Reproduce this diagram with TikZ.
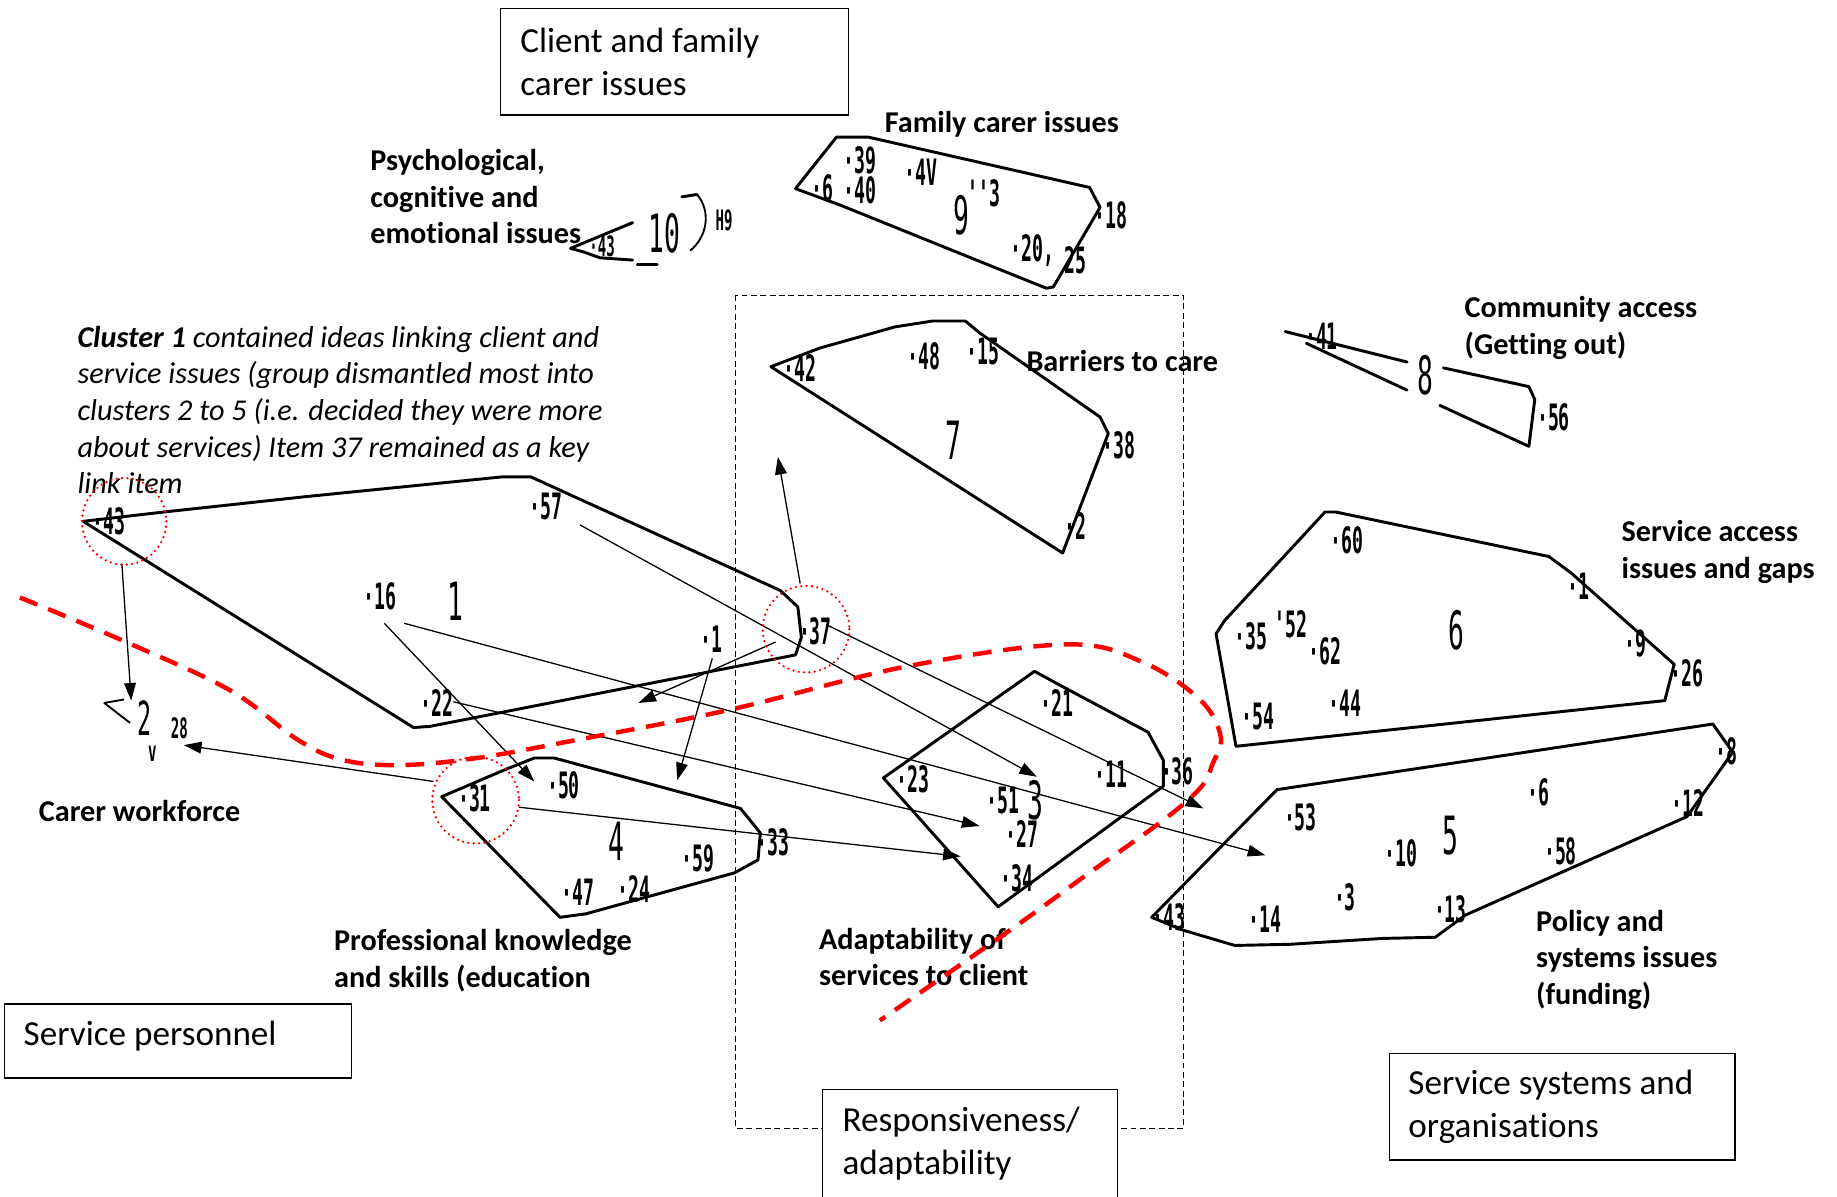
\documentclass[tikz,border=0pt]{standalone}
\usepackage{fontspec}
\usepackage{graphicx}
\setmainfont{Carlito}[Ligatures={NoCommon}]
\newfontfamily\numfont{DejaVu Sans Mono}
\usetikzlibrary{arrows.meta}
\definecolor{redline}{RGB}{255,0,0}
\newcommand{\sn}[1]{\scalebox{0.5}[1]{\numfont\bfseries\fontsize{31}{31}\selectfont #1}}
\newcommand{\bn}[1]{\scalebox{0.5}[1]{\numfont\fontsize{45}{45}\selectfont #1}}
\newcommand{\tn}[1]{\scalebox{0.5}[1]{\numfont\bfseries\fontsize{24}{24}\selectfont #1}}
\tikzset{
  clus/.style={line width=2.5pt, line join=round, line cap=round},
  thinclus/.style={line width=1.6pt, line join=round},
  framebox/.style={draw, line width=1.2pt, fill=white},
  boxtext/.style={font=\fontsize{30}{36.5}\selectfont, align=left, anchor=west, inner sep=0pt},
  lab/.style={font=\bfseries\fontsize{25.8}{31.2}\selectfont, align=left, anchor=west, inner sep=0pt},
  note/.style={font=\itshape\fontsize{25.8}{31.3}\selectfont, align=left, anchor=west, inner sep=0pt},
  num/.style={inner sep=0pt},
  arr/.style={line width=1.1pt, -{Triangle[length=15pt,width=10pt]}},
  redcirc/.style={draw=redline, line width=2.2pt, dash pattern=on 0pt off 4.6pt, line cap=round},
  reddash/.style={draw=redline, line width=3.8pt, dash pattern=on 16pt off 10pt},
  dbox/.style={draw, line width=1pt, dash pattern=on 5pt off 3pt},
}
\begin{document}
\begin{tikzpicture}[x=1pt,y=-1pt]
\fill[white] (0,0) rectangle (1568,1021);
\useasboundingbox (0,0) rectangle (1568,1021);

% dashed frame
\draw[dbox] (628,252) rectangle (1010,963);

% ---------- clusters ----------
% cluster 1
\draw[clus] (71,445) -- (140,437) -- (260,424) -- (429,407) -- (453,407) -- (666,504) -- (681,518) -- (684,544) -- (679,559) -- (367,620) -- (353,621) -- cycle;
% cluster 2
\draw[thinclus] (106,597) -- (89,600) -- (111,617);
% cluster 4
\draw[clus] (377,680) -- (431,657) -- (456,647) -- (473,647) -- (632,690) -- (649,711) -- (647,734) -- (627,745) -- (500,780) -- (478,783) -- cycle;
% cluster 3
\draw[clus] (754,664) -- (883,573) -- (905,585) -- (980,625) -- (993,649) -- (993,671) -- (852,774) -- cycle;
% cluster 7
\draw[clus] (658,313) -- (700,297) -- (764,279) -- (796,274) -- (824,274) -- (836,284) -- (939,356) -- (946,370) -- (907,472) -- cycle;
% cluster 9
\draw[clus] (679,161) -- (714,117) -- (741,117) -- (930,160) -- (939,177) -- (899,245) -- (893,246) -- (717,175) -- cycle;
% cluster 10
\draw[clus] (487,212) -- (540,190);
\draw[clus] (487,212) -- (498,215) -- (512,220) -- (540,222);
\draw[clus] (544,226) -- (561,226);
\draw[clus] (582,168) -- (595,166);
\draw[thinclus] (595,166) .. controls (607,180) and (604,202) .. (589,214);
% cluster 8
\draw[clus] (1097,283) -- (1201,309);
\draw[clus] (1115,293) -- (1201,333);
\draw[clus] (1232,314) -- (1305,330) -- (1310,341) -- (1305,381) -- (1229,346);
% cluster 6
\draw[clus] (1131,437) -- (1140,437) -- (1322,475) -- (1341,489) -- (1429,567) -- (1421,598) -- (1055,637) -- (1038,541) -- (1045,530) -- cycle;
% cluster 5
\draw[clus] (983,783) -- (1090,674) -- (1462,618) -- (1479,642) -- (1440,697) -- (1251,781) -- (1225,800) -- (1180,801) -- (1101,806) -- (1054,807) -- (1010,794) -- cycle;

% ---------- item numbers ----------
% cluster 1
\node[num] (c1a) at (93,445) {\sn{·43}};
\node[num] (c1b) at (466,432) {\sn{·57}};
\node[num] (c1c) at (324,509) {\sn{·16}};
\node[num] (c1n) at (389,513) {\bn{1}};
\node[num] (c1d) at (607,546) {\sn{·1}};
\node[num] (c1e) at (696,539) {\sn{·37}};
\node[num] (c1f) at (373,600) {\sn{·22}};
% cluster 2
\node[num] (c2n) at (123,613) {\scalebox{0.5}[1]{\numfont\fontsize{40}{40}\selectfont 2}};
\node[num] (c2a) at (153,622) {\tn{28}};
\node[num] (c2b) at (130,643) {\tn{v}};
% cluster 4
\node[num] (c4a) at (405,681) {\sn{·31}};
\node[num] (c4b) at (481,670) {\sn{·50}};
\node[num] (c4n) at (526,718) {\bn{4}};
\node[num] (c4c) at (596,733) {\sn{·59}};
\node[num] (c4d) at (493,762) {\sn{·47}};
\node[num] (c4e) at (541,759) {\sn{·24}};
\node[num] (c4f) at (660,719) {\sn{·33}};
% cluster 3
\node[num] (c3a) at (902,600) {\sn{·21}};
\node[num] (c3b) at (779,665) {\sn{·23}};
\node[num] (c3c) at (948,661) {\sn{·11}};
\node[num] (c3d) at (1005,658) {\sn{·36}};
\node[num] (c3e) at (856,683) {\sn{·51}};
\node[num] (c3n) at (884,683) {\bn{3}};
\node[num] (c3f) at (872,712) {\sn{·27}};
\node[num] (c3g) at (868,750) {\sn{·34}};
% cluster 7
\node[num] (c7a) at (683,314) {\sn{·42}};
\node[num] (c7b) at (789,304) {\sn{·48}};
\node[num] (c7c) at (839,300) {\sn{·15}};
\node[num] (c7n) at (814,376) {\bn{7}};
\node[num] (c7d) at (955,380) {\sn{·38}};
\node[num] (c7e) at (918,449) {\sn{·2}};
% cluster 9
\node[num] (c9a) at (734,137) {\sn{·39}};
\node[num] (c9b) at (702,161) {\sn{·6}};
\node[num] (c9c) at (734,162) {\sn{·40}};
\node[num] (c9d) at (786,147) {\sn{·4V}};
\node[num] (c9n) at (821,184) {\bn{9}};
\node[num] (c9e) at (840,165) {\sn{''3}};
\node[num] (c9f) at (948,184) {\sn{·18}};
\node[num] (c9g) at (881,214) {\sn{·20,}};
\node[num] (c9h) at (918,222) {\sn{25}};
% cluster 10
\node[num] (c10a) at (514,210) {\tn{·43}};
\node[num] (c10n) at (567,199) {\bn{10}};
\node[num] (c10b) at (618,188) {\tn{H9}};
% cluster 8
\node[num] (c8a) at (1128,287) {\sn{·41}};
\node[num] (c8n) at (1217,320) {\bn{8}};
\node[num] (c8b) at (1326,356) {\sn{·56}};
% cluster 6
\node[num] (c6a) at (1150,461) {\sn{·60}};
\node[num] (c6b) at (1347,500) {\sn{·1}};
\node[num] (c6n) at (1243,538) {\bn{6}};
\node[num] (c6c) at (1068,543) {\sn{·35}};
\node[num] (c6d) at (1102,533) {\sn{'52}};
\node[num] (c6e) at (1131,556) {\sn{·62}};
\node[num] (c6f) at (1396,549) {\sn{·9}};
\node[num] (c6g) at (1440,575) {\sn{·26}};
\node[num] (c6h) at (1074,612) {\sn{·54}};
\node[num] (c6i) at (1148,600) {\sn{·44}};
% cluster 5
\node[num] (c5a) at (1110,698) {\sn{·53}};
\node[num] (c5b) at (1313,676) {\sn{·6}};
\node[num] (c5c) at (1196,728) {\sn{·10}};
\node[num] (c5n) at (1238,713) {\bn{5}};
\node[num] (c5d) at (1332,727) {\sn{·58}};
\node[num] (c5e) at (1441,685) {\sn{·12}};
\node[num] (c5f) at (1474,641) {\sn{·8}};
\node[num] (c5g) at (1148,766) {\sn{·3}};
\node[num] (c5h) at (1238,776) {\sn{·13}};
\node[num] (c5i) at (1080,785) {\sn{·14}};
\node[num] (c5j) at (998,783) {\sn{·43}};

% ---------- cluster labels ----------
\node[lab] (lfam) at (755,106) {Family carer issues};
\node[lab] (lpsy) at (316,168) {Psychological,\\cognitive and\\emotional issues};
\node[lab] (lbar) at (876,308) {Barriers to care};
\node[lab] (lcom) at (1250,280) {Community access\\(Getting out)};
\node[lab] (lsac) at (1384,471) {Service access\\issues and gaps};
\node[lab] (lcar) at (33,692) {Carer workforce};
\node[lab] (lpro) at (285,820) {Professional knowledge\\and skills (education};
\node[lab] (lada) at (699,817) {Adaptability of\\services to client};
\node[lab] (lpol) at (1311,819) {Policy and\\systems issues\\(funding)};
\node[note] (lnote) at (66,350) {\textbf{Cluster 1} contained ideas linking client and\\service issues (group dismantled most into\\clusters 2 to 5 (i.e. decided they were more\\about services) Item 37 remained as a key\\link item};

% ---------- arrows ----------
\coordinate (p1s) at (104,481); \coordinate (p1e) at (112,598);
\coordinate (p2s) at (683,498); \coordinate (p2e) at (664,390);
\coordinate (p3s) at (662,548); \coordinate (p3e) at (545,600);
\coordinate (p4s) at (608,562); \coordinate (p4e) at (578,666);
\coordinate (p5s) at (328,532); \coordinate (p5e) at (456,667);
\coordinate (p6s) at (345,532); \coordinate (p6e) at (1080,730);
\coordinate (p7s) at (495,448); \coordinate (p7e) at (885,663);
\coordinate (p8s) at (705,533); \coordinate (p8e) at (1027,690);
\coordinate (p9s) at (387,599); \coordinate (p9e) at (836,705);
\coordinate (p10s) at (370,667); \coordinate (p10e) at (157,636);
\coordinate (p11s) at (443,689); \coordinate (p11e) at (820,731);
\foreach \i in {1,...,11} {\draw[arr] (p\i s) -- (p\i e);}

% ---------- red marks ----------
\draw[reddash] plot[smooth, tension=0.6] coordinates {(17,510) (103,546) (196,589) (255,632) (294,649) (343,653) (407,647) (490,632) (622,606) (773,569) (911,550) (977,566) (1025,598) (1042,629) (1035,652) (1025,672) (993,700) (927,747) (862,794) (751,871)};
\draw[redcirc] (106,445) ellipse [x radius=36, y radius=37];
\draw[redcirc] (688,537) ellipse [x radius=37, y radius=37];
\draw[redcirc] (406,683) ellipse [x radius=37, y radius=37];

% ---------- frame boxes ----------
\draw[framebox] (427,7) rectangle (724,98);
\node[boxtext] (b1) at (444,53) {Client and family\\carer issues};
\draw[framebox] (4,857) rectangle (300,920);
\node[boxtext] (b2) at (20,884) {Service personnel};
\draw[framebox] (702,930) rectangle (954,1040);
\node[boxtext] (b3) at (719,976) {Responsiveness/\\adaptability};
\draw[framebox] (1186,899) rectangle (1481,990);
\node[boxtext] (b4) at (1202,945) {Service systems and\\organisations};
\end{tikzpicture}
\end{document}
